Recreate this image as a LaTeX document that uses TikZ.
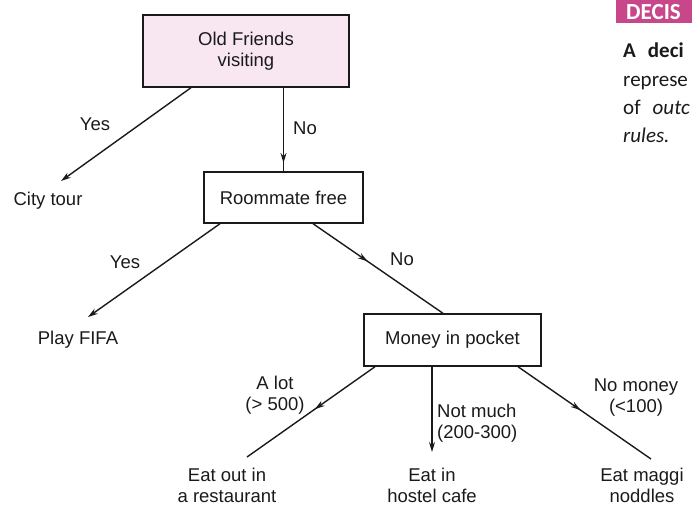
\documentclass[tikz,border=0pt]{standalone}
\usepackage{fontspec}
\setmainfont{Liberation Sans}
\newfontfamily\sidefont{Carlito}
\usetikzlibrary{arrows.meta,decorations.markings}
\definecolor{boxpink}{HTML}{F8E6F1}
\definecolor{headmag}{HTML}{C8468A}
\definecolor{ink}{HTML}{1A1A1A}
\tikzset{
  box/.style={draw=ink, line width=1.4pt, inner sep=0pt, align=center, text=ink, font=\fontsize{18.5}{21}\selectfont},
  lbl/.style={inner sep=0pt, align=center, text=ink, font=\fontsize{18.5}{21}\selectfont},
  conn/.style={draw=ink, line width=1.4pt},
  endarrow/.style={-{Stealth[length=10pt,width=6pt]}},
  midarrow/.style={postaction=decorate, decoration={markings, mark=at position #1 with {\arrow{Stealth[length=10pt,width=6pt]}}}},
  side/.style={inner sep=0pt, anchor=base west, text=ink, font=\sidefont\fontsize{21}{24}\selectfont}
}
\begin{document}
\begin{tikzpicture}[x=1pt,y=-1pt]
\useasboundingbox (0,0) rectangle (692,507);
\clip (0,0) rectangle (692,507);
% decision boxes
\node[box, fill=boxpink, minimum width=206pt, minimum height=72pt] (top) at (246,51) {Old Friends\\visiting};
\node[box, minimum width=159pt, minimum height=51pt] (room) at (283.5,197.5) {Roommate free};
\node[box, minimum width=177pt, minimum height=52pt] (money) at (452.5,340) {Money in pocket};
% leaves
\node[lbl] (city) at (48,201) {City tour};
\node[lbl] (fifa) at (78,340) {Play FIFA};
\node[lbl] (rest) at (227,485) {Eat out in\\a restaurant};
\node[lbl] (cafe) at (432,485) {Eat in\\hostel cafe};
\node[lbl] (maggi) at (642,485) {Eat maggi\\noddles};
% free ends
\coordinate (cityend) at (61,181);
\coordinate (fifaend) at (88,317);
\coordinate (restend) at (247,457);
\coordinate (cafeend) at (432,452);
\coordinate (maggiend) at (651,459);
% connectors
\draw[conn,endarrow] ([xshift=-55pt]top.south) -- (cityend);
\draw[conn,midarrow=0.9] (room.north |- top.south) -- (room.north);
\draw[conn,endarrow] ([xshift=-63.5pt]room.south) -- (fifaend);
\draw[conn,midarrow=0.42] ([xshift=29.5pt]room.south) -- ([xshift=-9.5pt]money.north);
\draw[conn,midarrow=0.47] ([xshift=-77.5pt]money.south) -- (restend);
\draw[conn,endarrow] ([xshift=-20.5pt]money.south) -- (cafeend);
\draw[conn,midarrow=0.47] ([xshift=65.5pt]money.south) -- (maggiend);
% edge labels
\node[lbl] (l1) at (95,124) {Yes};
\node[lbl] (l2) at (305,128) {No};
\node[lbl] (l3) at (125,262) {Yes};
\node[lbl] (l4) at (402,259) {No};
\node[lbl] (l5) at (275,395) {A lot\\(> 500)};
\node[lbl, align=left, anchor=west] (l6) at (437,423) {Not much\\(200-300)};
\node[lbl] (l7) at (636,398) {No money\\(<100)};
% side page text
\fill[headmag] (616,0) rectangle (700,23);
\node[inner sep=0pt, anchor=base west, text=white, font=\sidefont\bfseries\fontsize{23}{25}\selectfont] (head) at (626,19) {DECIS};
\node[side] (s1) at (623,57) {\bfseries A\hspace{12pt}deci};
\node[side] (s2) at (623,86) {represe};
\node[side] (s3) at (623,114) {of\hspace{12pt}\itshape outc};
\node[side] (s4) at (623,142) {\itshape rules.};
\end{tikzpicture}
\end{document}
